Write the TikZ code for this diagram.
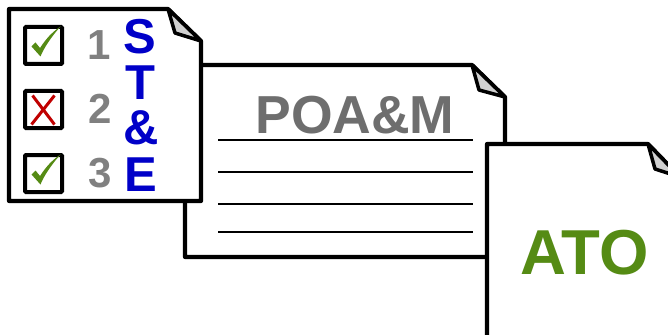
\documentclass[tikz,border=0pt]{standalone}
\usepackage{fontspec}
\setmainfont{Liberation Sans}
\definecolor{stegreen}{HTML}{558B14}
\definecolor{stered}{HTML}{C00000}
\definecolor{steblue}{HTML}{0000C8}
\definecolor{numgray}{HTML}{808080}
\definecolor{poagray}{HTML}{6E6E6E}
\definecolor{foldgray}{HTML}{D0D0D0}
\begin{document}
\begin{tikzpicture}[
x=1pt, y=-1pt,
page/.style={draw=black, fill=white, line width=4.2pt, line join=round},
fold/.style={draw=black, fill=foldgray, line width=3.5pt, line join=round},
rule/.style={draw=black, line width=2.2pt},
checkbox/.style={draw=black, line width=4pt, rounded corners=1pt, fill=white},
tick/.style={fill=stegreen},
cross/.style={draw=stered, line width=3pt},
number/.style={font=\fontsize{42}{42}\bfseries, text=numgray, inner sep=0pt},
letter/.style={font=\fontsize{49}{49}\bfseries, text=steblue, inner sep=0pt}
]
\useasboundingbox (0,0) rectangle (668,334);
\clip (0,0) rectangle (668,334);
% POA&M sheet
\draw[page] (185,65) -- (472,65) -- (505,97) -- (505,257) -- (185,257) -- cycle;
\draw[fold] (472,65) -- (479,90) -- (505,97) -- cycle;
\node[font=\fontsize{53.5}{53.5}\bfseries, text=poagray, inner sep=0pt] (poam) at (355,115.5) {POA\&M};
\foreach \y in {140,172,204,232}
  \draw[rule] (218,\y) -- (473,\y);
% ST&E sheet
\draw[page] (9,9) -- (168,9) -- (201,41) -- (201,201) -- (9,201) -- cycle;
\draw[fold] (168,9) -- (175,33) -- (201,41) -- cycle;
\foreach \y/\n in {25/box1,89/box2,153/box3}
  \node[checkbox, minimum size=37pt, inner sep=0pt, anchor=north west] (\n) at (23,\y) {};
\foreach \n in {box1,box3}
  \fill[tick] ([shift={(-12,1)}]\n.center) -- ([shift={(-8,-3)}]\n.center) -- ([shift={(-3.5,2.5)}]\n.center)
    .. controls ([shift={(2,-6)}]\n.center) and ([shift={(8,-13)}]\n.center) .. ([shift={(17,-19)}]\n.center)
    .. controls ([shift={(8,-9)}]\n.center) and ([shift={(0,3)}]\n.center) .. ([shift={(-3,11)}]\n.center) -- cycle;
\draw[cross] ([shift={(-11,-14)}]box2.center) -- ([shift={(11,15)}]box2.center);
\draw[cross] ([shift={(11,-14)}]box2.center) -- ([shift={(-12,15)}]box2.center);
\node[number] (one) at (99.5,45) {1};
\node[number] (two) at (100,109) {2};
\node[number] (three) at (100,173) {3};
\node[letter] (s) at (140,36.5) {S};
\node[letter] (t) at (140.5,82.5) {T};
\node[letter] (amp) at (141,128) {\&};
\node[letter] (e) at (141,174.5) {E};
% ATO sheet
\draw[page] (487,340) -- (487,144) -- (648,144) -- (680,177) -- (680,340) -- cycle;
\draw[fold] (648,144) -- (655,169) -- (680,177) -- cycle;
\node[font=\fontsize{63.5}{63.5}\bfseries, text=stegreen, inner sep=0pt] (ato) at (584.5,253) {ATO};
\end{tikzpicture}
\end{document}
